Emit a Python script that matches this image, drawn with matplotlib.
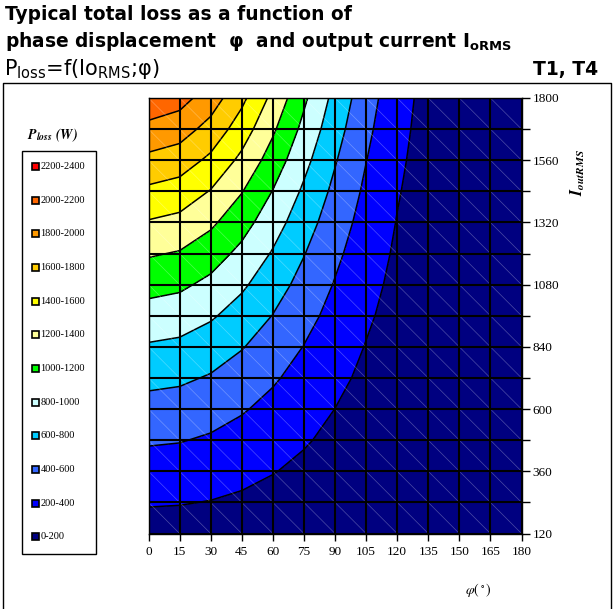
import numpy as np
import matplotlib
matplotlib.use('Agg')
import matplotlib.pyplot as plt
from matplotlib.patches import Rectangle
from matplotlib.collections import LineCollection
from matplotlib.lines import Line2D

# phase displacement (deg) and output current (A)
phi = [0, 15, 30, 45, 60, 75, 90, 105, 120, 135, 150, 165, 180]
current = [120, 240, 360, 480, 600, 720, 840, 960, 1080, 1200, 1320, 1440, 1560, 1680, 1800]

# loss (W) per current row, per phi column
loss = [
    [115, 112, 104, 91, 76, 60, 45, 30, 19, 10, 4, 1, 0],
    [215, 209, 194, 170, 142, 112, 83, 56, 35, 18, 7, 1, 0],
    [315, 307, 283, 249, 207, 163, 120, 82, 50, 26, 10, 2, 0],
    [420, 409, 377, 331, 276, 216, 159, 108, 66, 34, 14, 3, 0],
    [530, 515, 476, 417, 346, 272, 199, 135, 81, 42, 17, 4, 0],
    [650, 632, 583, 510, 423, 331, 242, 163, 98, 51, 20, 4, 0],
    [780, 758, 699, 611, 506, 395, 288, 193, 116, 59, 23, 5, 0],
    [920, 894, 823, 719, 595, 464, 337, 226, 135, 69, 26, 5, 0],
    [1066, 1036, 953, 831, 687, 534, 388, 258, 154, 78, 30, 6, 0],
    [1220, 1185, 1089, 950, 783, 608, 440, 292, 173, 87, 33, 7, 0],
    [1385, 1345, 1236, 1076, 886, 686, 495, 328, 193, 96, 36, 7, 0],
    [1560, 1515, 1390, 1209, 994, 768, 553, 365, 214, 106, 39, 8, 0],
    [1750, 1699, 1558, 1353, 1111, 857, 615, 404, 236, 116, 43, 8, 0],
    [1945, 1887, 1730, 1501, 1230, 947, 678, 443, 258, 126, 46, 9, 0],
    [2140, 2076, 1902, 1648, 1349, 1036, 740, 482, 279, 135, 48, 9, 0],
]

levels = [0, 200, 400, 600, 800, 1000, 1200, 1400, 1600, 1800, 2000, 2200, 2400]
colors = ['#000080', '#0000FF', '#3366FF', '#00CCFF', '#CCFFFF', '#00FF00',
          '#FFFF99', '#FFFF00', '#FFCC00', '#FF9900', '#FF6600', '#FF0000']
band_labels = ['0-200', '200-400', '400-600', '600-800', '800-1000', '1000-1200',
               '1200-1400', '1400-1600', '1600-1800', '1800-2000', '2000-2200', '2200-2400']

W, H = 614, 609
fig = plt.figure(figsize=(W / 100, H / 100), dpi=100)

# outer frame
fig.add_artist(Line2D([3 / W, 3 / W, 611 / W, 611 / W], [0, 1 - 83 / H, 1 - 83 / H, 0],
                      transform=fig.transFigure, color='black', lw=1))

# titles
fig.text(5 / W, 1 - 20 / H, 'Typical total loss as a function of', fontsize=13.4,
         fontweight='bold', va='baseline')
fig.text(5 / W, 1 - 47 / H, 'phase displacement  \u03c6  and output current I$_{\\mathbf{oRMS}}$',
         fontsize=13.4, fontweight='bold', va='baseline')
fig.text(4 / W, 1 - 75 / H, 'P$_{\\mathrm{loss}}$=f(Io$_{\\mathrm{RMS}}$;\u03c6)', fontsize=15,
         va='baseline')
fig.text(598 / W, 1 - 75 / H, 'T1, T4', fontsize=13.5, fontweight='bold', va='baseline', ha='right')

ax = fig.add_axes([148.5 / W, 1 - 533.5 / H, 373 / W, 435.5 / H])
ax.contourf(phi, current, loss, levels=levels, colors=colors, zorder=1)
ax.contour(phi, current, loss, levels=levels[1:-1], colors='black', linewidths=1.1, zorder=2)

# faint white cell diagonals
segs = []
for i in range(len(phi) - 1):
    for j in range(len(current) - 1):
        segs.append([(phi[i], current[j + 1]), (phi[i + 1], current[j])])
ax.add_collection(LineCollection(segs, colors='white', linewidths=0.5, alpha=0.3, zorder=2.2))

ax.set_xlim(0, 180)
ax.set_ylim(120, 1800)
ax.set_xticks(phi)
ax.set_yticks(current[::2])
ax.set_yticks(current[1::2], minor=True)
ax.yaxis.tick_right()
ax.grid(True, which='both', color='black', linewidth=1.5)
ax.set_axisbelow(False)
ax.tick_params(axis='x', direction='out', length=5, width=1, labelsize=9.5, pad=4)
ax.tick_params(axis='y', which='both', direction='out', length=6, width=1, labelsize=9.5, pad=2)
for lab in ax.get_xticklabels() + ax.get_yticklabels():
    lab.set_fontfamily('Liberation Serif')
for sp in ax.spines.values():
    sp.set_linewidth(1)

fig.text(578 / W, 1 - 172 / H, '$\\mathbfit{I}_{\\mathbfit{outRMS}}$', rotation=90,
         fontsize=11.5, math_fontfamily='stix', ha='center', va='center')
fig.text(478 / W, 1 - 590 / H, '$\\varphi(\\,^{\\circ}\\,)$', fontsize=10,
         math_fontfamily='stix', ha='center', va='center')

# legend
fig.text(52 / W, 1 - 135 / H, '$\\mathbfit{P}_{\\mathbfit{loss}}\\ \\mathbfit{(W)}$',
         fontsize=10, math_fontfamily='stix', ha='center', va='center')
fig.add_artist(Rectangle((21.7 / W, 1 - 554 / H), 74.3 / W, 403 / H, transform=fig.transFigure,
                         fill=False, edgecolor='black', lw=1))
for k in range(len(colors)):
    idx = len(colors) - 1 - k
    yc = 166.7 + k * 33.64
    fig.add_artist(Rectangle(((35 - 3.5) / W, 1 - (yc + 3.5) / H), 7 / W, 7 / H,
                             transform=fig.transFigure, facecolor=colors[idx],
                             edgecolor='black', lw=1.2))
    fig.text(40.5 / W, 1 - yc / H, band_labels[idx], fontsize=7.5, family='Liberation Serif',
             va='center', ha='left')

fig.savefig('out.png', dpi=100)
